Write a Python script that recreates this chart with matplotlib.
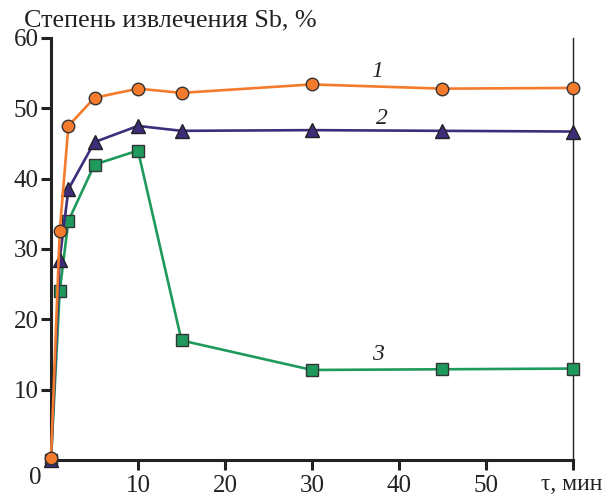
import matplotlib
matplotlib.use("Agg")
import matplotlib.pyplot as plt

plt.rcParams['font.family'] = ['Liberation Serif', 'DejaVu Serif']

# Extraction time, min
time_min = [0, 1, 2, 5, 10, 15, 30, 45, 60]
# Sb extraction degree, %
curve1 = [0.3, 32.5, 47.5, 51.5, 52.8, 52.2, 53.4, 52.8, 52.9]
curve2 = [0.0, 28.5, 38.5, 45.2, 47.5, 46.8, 46.9, 46.8, 46.7]
curve3 = [0.0, 24.0, 34.0, 42.0, 44.0, 17.0, 12.8, 12.9, 13.0]

x_ticks = [10, 20, 30, 40, 50, 60]
x_ticklabels = ["10", "20", "30", "40", "50", ""]
y_ticks = [10, 20, 30, 40, 50, 60]
curve_labels = ["1", "2", "3"]

c_orange = "#F47A2C"
c_purple = "#3E2D7A"
c_green = "#1E9A5C"

fig = plt.figure(figsize=(6.06, 4.96), dpi=100)
ax = fig.add_axes([51 / 606, 1 - 460 / 496, (573 - 51) / 606, (460 - 38) / 496])

ax.plot(time_min, curve3, color=c_green, lw=1.9, marker="s", ms=8.0,
        mfc=c_green, mec="#333333", mew=1.0, clip_on=False, zorder=3)
ax.plot(time_min, curve2, color=c_purple, lw=1.9, marker="^", ms=10.5,
        mfc=c_purple, mec="#222222", mew=1.0, clip_on=False, zorder=4)
ax.plot(time_min, curve1, color=c_orange, lw=1.9, marker="o", ms=9.0,
        mfc=c_orange, mec="#333333", mew=1.0, clip_on=False, zorder=5)

ax.set_xlim(0, 60)
ax.set_ylim(0, 60)

ax.spines['top'].set_visible(False)
ax.spines['left'].set_linewidth(2.2)
ax.spines['bottom'].set_linewidth(2.2)
ax.spines['right'].set_linewidth(1.0)
for s in ax.spines.values():
    s.set_color("#222222")

ax.set_xticks(x_ticks)
ax.set_xticklabels(x_ticklabels)
ax.set_yticks(y_ticks)
ax.tick_params(axis='both', direction='out', length=7, width=2.2,
               colors="#222222", labelsize=18, pad=2, labelcolor="#222222")
ax.tick_params(axis='x', pad=4)

# origin label
ax.text(-1.1, -2.6, "0", fontsize=18, ha="right", va="center",
        color="#222222", clip_on=False)
# axis captions
ax.text(-3.1, 62.5, "Степень извлечения Sb, %", fontsize=18.8,
        ha="left", va="center", color="#222222", clip_on=False)
ax.text(63.4, -3.5, "τ, мин", fontsize=17, ha="right", va="center",
        color="#222222", clip_on=False)

# curve numbers
ax.text(37.5, 55.2, curve_labels[0], fontsize=17, style="italic",
        ha="center", va="center", color="#222222")
ax.text(38.0, 48.6, curve_labels[1], fontsize=17, style="italic",
        ha="center", va="center", color="#222222")
ax.text(37.6, 15.0, curve_labels[2], fontsize=17, style="italic",
        ha="center", va="center", color="#222222")

fig.savefig("out.png", dpi=100)
